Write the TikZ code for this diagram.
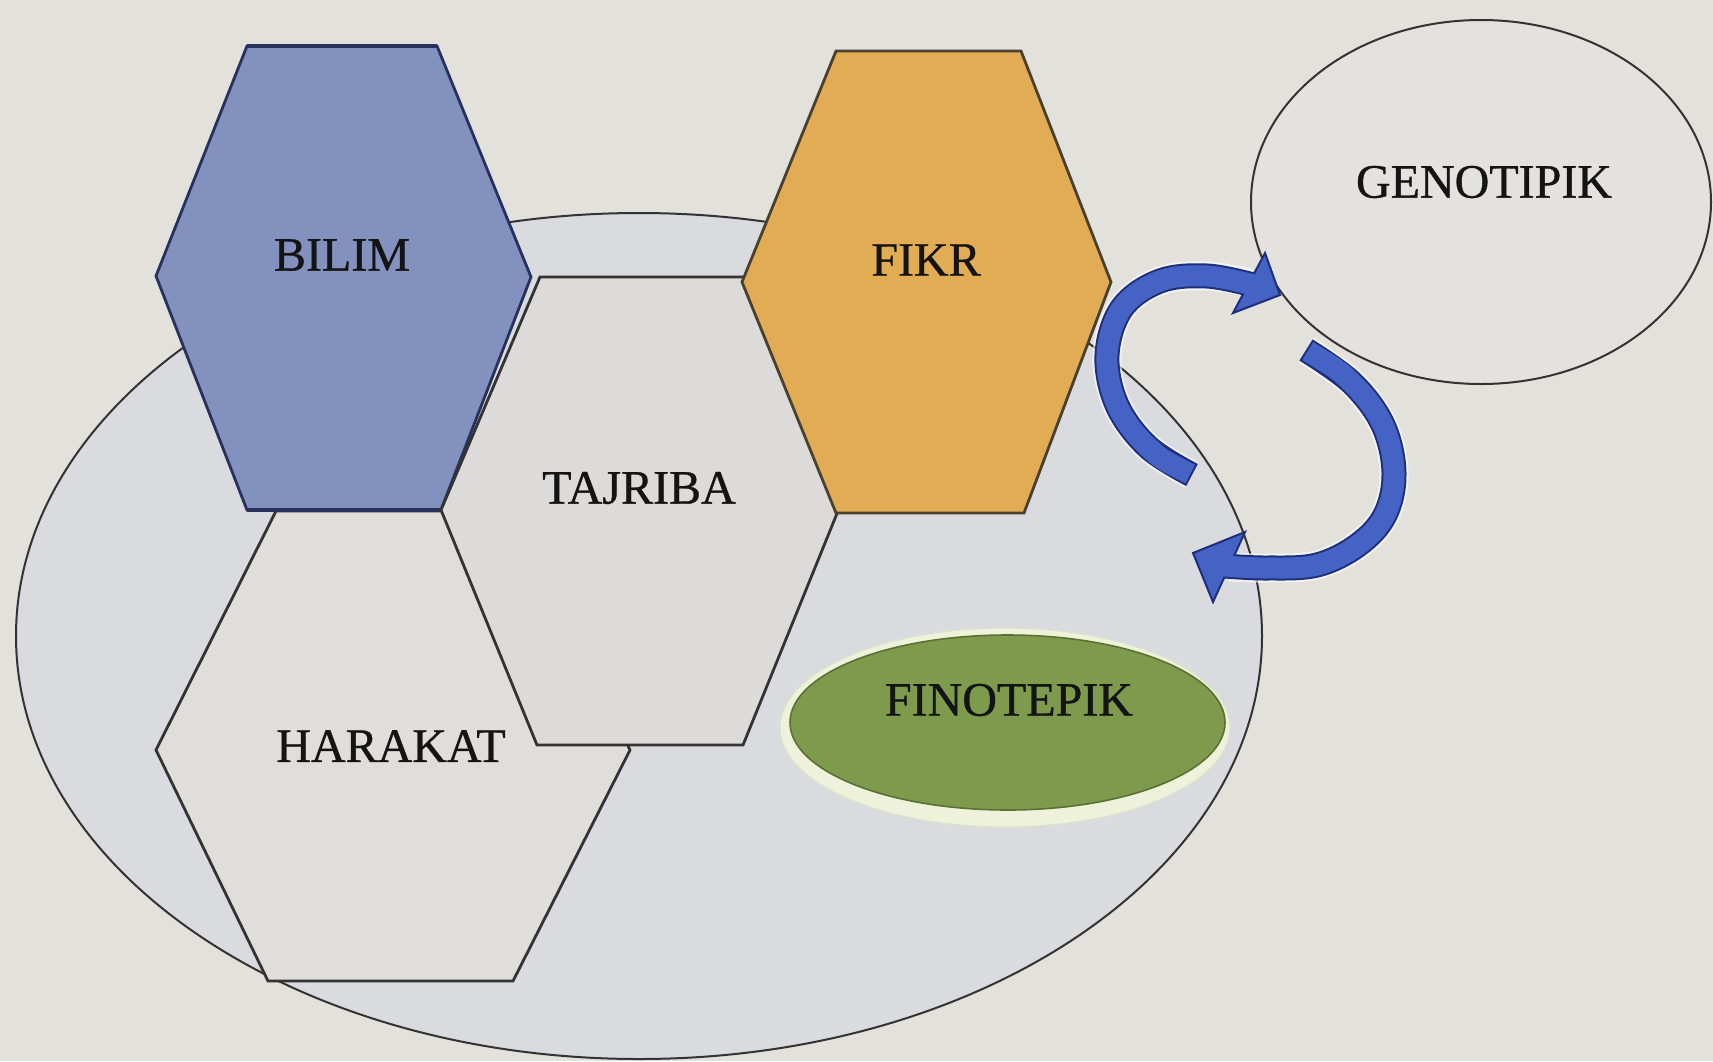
\documentclass[tikz,border=0pt]{standalone}
\usepackage{fontspec}
\setmainfont{Liberation Serif}
\newfontfamily\lblfont[FakeBold=0.7]{Liberation Serif}
\usetikzlibrary{shapes.geometric}
\definecolor{bg}{HTML}{E2E1DC}
\definecolor{ellfill}{HTML}{DADBDF}
\definecolor{edge}{HTML}{333333}
\definecolor{bilimfill}{HTML}{8391BF}
\definecolor{bilimedge}{HTML}{27315C}
\definecolor{fikrfill}{HTML}{E2AC55}
\definecolor{fikredge}{HTML}{4A4030}
\definecolor{tajfill}{HTML}{DCDBD9}
\definecolor{harfill}{HTML}{E0DEDB}
\definecolor{finfill}{HTML}{7E9A4C}
\definecolor{finrim}{HTML}{EEF2DA}
\definecolor{finedge}{HTML}{5B7035}
\definecolor{genfill}{HTML}{E3E2DE}
\definecolor{arrblue}{HTML}{4563C4}
\definecolor{arrdark}{HTML}{1F2E7A}
\begin{document}
\begin{tikzpicture}[x=0.5pt,y=-0.5pt,
  lbl/.style={font=\lblfont\fontsize{24}{28}\selectfont, text=black!92, inner sep=0pt},
  hexline/.style={draw=edge, line width=1.4pt, line join=miter},
  halo/.style={draw=white, opacity=0.6, line width=14.5pt},
  shaftdark/.style={draw=arrdark, line width=12.5pt},
  shaftblue/.style={draw=arrblue, line width=10.5pt, shorten <=1pt},
  headstyle/.style={fill=arrblue, draw=arrdark, line width=1pt, line join=miter}]
\useasboundingbox (0,0) rectangle (1713,1061);
\fill[bg] (0,0) rectangle (1713,1061);

% big ellipse
\node[ellipse, draw=edge, line width=1pt, fill=ellfill, minimum width=623pt, minimum height=423pt, inner sep=0pt] (outer) at (639,636) {};

% HARAKAT
\draw[hexline, fill=harfill] (276,511) -- (515,511) -- (630,750) -- (513,981) -- (268,981) -- (156,750) -- cycle;
\node[lbl] (harakat) at (391,746) {HARAKAT};

% BILIM
\draw[hexline, draw=bilimedge, fill=bilimfill] (247,46) -- (437,46) -- (531,277) -- (441,510) -- (247,510) -- (156,276) -- cycle;
\draw[draw=bilimedge, line width=2pt] (247,46) -- (437,46) (247,510) -- (441,510);
\node[lbl] (bilim) at (342,255) {BILIM};

% TAJRIBA
\draw[hexline, fill=tajfill] (540,277) -- (744,277) -- (838,511) -- (743,745) -- (537,745) -- (441,510) -- cycle;
\node[lbl] (tajriba) at (639,488) {TAJRIBA};

% FIKR
\draw[hexline, draw=fikredge, fill=fikrfill] (836,51) -- (1021,51) -- (1111,282) -- (1024,513) -- (836,513) -- (742,282) -- cycle;
\node[lbl] (fikr) at (926,260) {FIKR};

% FINOTEPIK
\node[ellipse, fill=finrim, draw=finrim!85!gray, line width=0.6pt, minimum width=225pt, minimum height=99.5pt, inner sep=0pt] (finrim) at (1005,727.5) {};
\node[ellipse, fill=finfill, draw=finedge, line width=0.8pt, minimum width=217.5pt, minimum height=87.5pt, inner sep=0pt] (finotepik) at (1007.5,722.5) {};
\node[lbl] (finlabel) at (1009,700) {FINOTEPIK};

% GENOTIPIK
\node[ellipse, draw=edge, line width=1pt, fill=genfill, minimum width=230pt, minimum height=182pt, inner sep=0pt] (genotipik) at (1481,202) {};
\node[lbl] (genlabel) at (1484,182) {GENOTIPIK};

% arrow 1 (towards GENOTIPIK)
\coordinate (a1tip) at (1280,295);
\coordinate (a1b1) at (1265,253);
\coordinate (a1b2) at (1233,313);
\draw[halo] plot[smooth, tension=0.6] coordinates {(1192,475) (1148,447) (1117,405) (1107,355) (1122,308) (1160,281) (1207,276) (1250,283)};
\draw[shaftdark] plot[smooth, tension=0.6] coordinates {(1192,475) (1148,447) (1117,405) (1107,355) (1122,308) (1160,281) (1207,276) (1253,285)};
\draw[headstyle] (a1tip) -- (a1b1) -- (a1b2) -- cycle;
\draw[shaftblue] plot[smooth, tension=0.6] coordinates {(1192,475) (1148,447) (1117,405) (1107,355) (1122,308) (1160,281) (1207,276) (1253,285)};

% arrow 2 (towards the big ellipse)
\coordinate (a2tip) at (1193,553);
\coordinate (a2b1) at (1245,532);
\coordinate (a2b2) at (1213,602);
\draw[halo] plot[smooth, tension=0.6] coordinates {(1306,350) (1352,383) (1383,425) (1394,473) (1385,515) (1358,545) (1317,565) (1267,568) (1229,567)};
\draw[shaftdark] plot[smooth, tension=0.6] coordinates {(1306,350) (1352,383) (1383,425) (1394,473) (1385,515) (1358,545) (1317,565) (1267,568) (1225,566)};
\draw[headstyle] (a2tip) -- (a2b1) -- (a2b2) -- cycle;
\draw[shaftblue] plot[smooth, tension=0.6] coordinates {(1306,350) (1352,383) (1383,425) (1394,473) (1385,515) (1358,545) (1317,565) (1267,568) (1225,566)};
\end{tikzpicture}
\end{document}
